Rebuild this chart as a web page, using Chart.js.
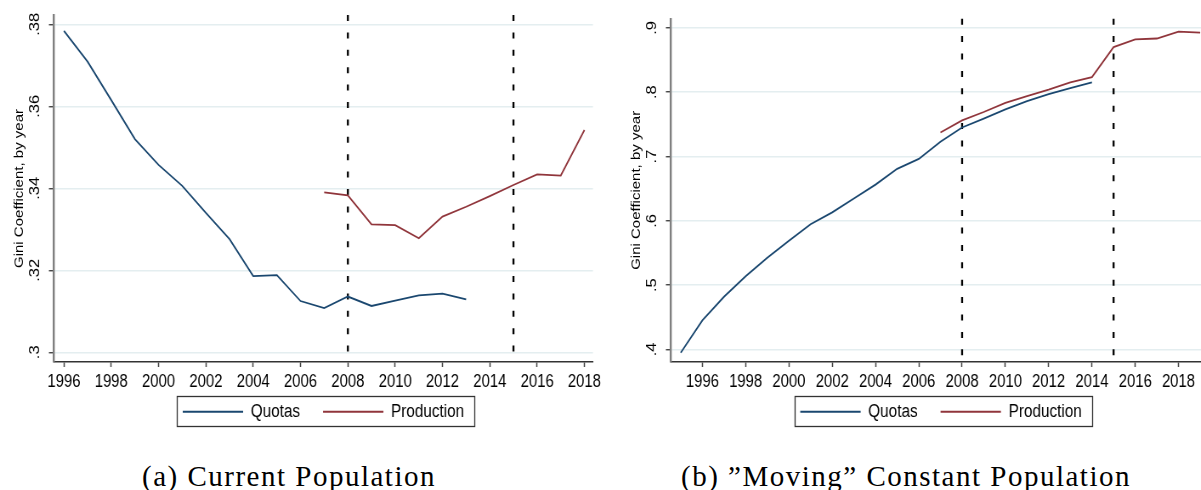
<!DOCTYPE html>
<html lang="en">
<head>
  <meta charset="UTF-8" />
  <title>Gini Coefficient by year</title>
  <script src="https://cdn.jsdelivr.net/npm/chart.js"></script>
  <style>
    html, body { margin: 0; padding: 0; background: #fff; }
    body { width: 1201px; height: 490px; position: relative; overflow: hidden; }
    /* the Stata panels come out a bit narrower than they are tall */
    .box { position: absolute; top: 0; height: 460px; transform: scaleX(0.85); transform-origin: 0 0; }
    .caption {
      position: absolute; top: 462px; height: 29px; line-height: 29px;
      font-family: "Liberation Serif", "Times New Roman", serif; font-size: 29px;
      letter-spacing: 1.5px; text-align: center; color: #000; white-space: nowrap;
    }
  </style>
</head>
<body>
  <div class="box" style="left:0; width:720px;"><canvas id="current"></canvas></div>
  <div class="box" style="left:600px; width:730px;"><canvas id="moving"></canvas></div>
  <div class="caption" style="left:0; width:578px;">(a) Current Population</div>
  <div class="caption" style="left:606px; width:600px;">(b) ”Moving” Constant Population</div>

  <script>
    // (a) current population
    const curQuotaYears = [1996, 1997, 1998, 1999, 2000, 2001, 2002, 2003, 2004, 2005, 2006, 2007, 2008, 2009, 2010, 2011, 2012, 2013];
    const curQuotas = [0.3784, 0.3709, 0.3615, 0.3520, 0.3457, 0.3406, 0.3340, 0.3276, 0.3186, 0.3188, 0.3125, 0.3108, 0.3136, 0.3113, 0.3126, 0.3139, 0.3143, 0.3129];
    const curProdYears = [2007, 2008, 2009, 2010, 2011, 2012, 2013, 2014, 2015, 2016, 2017, 2018];
    const curProduction = [0.3390, 0.3383, 0.3312, 0.3310, 0.3278, 0.3331, 0.3355, 0.3381, 0.3408, 0.3434, 0.3431, 0.3542];
    const curYTicks = [0.30, 0.32, 0.34, 0.36, 0.38];

    // (b) "moving" constant population
    const movQuotaYears = [1995, 1996, 1997, 1998, 1999, 2000, 2001, 2002, 2003, 2004, 2005, 2006, 2007, 2008, 2009, 2010, 2011, 2012, 2013, 2014];
    const movQuotas = [0.3948, 0.4451, 0.4820, 0.5138, 0.5425, 0.5692, 0.5948, 0.6132, 0.6348, 0.6563, 0.6809, 0.6963, 0.7231, 0.7451, 0.7589, 0.7732, 0.7862, 0.7969, 0.8062, 0.8154];
    const movProdYears = [2007, 2008, 2009, 2010, 2011, 2012, 2013, 2014, 2015, 2016, 2017, 2018, 2019];
    const movProduction = [0.7374, 0.7563, 0.7692, 0.7835, 0.7938, 0.8040, 0.8154, 0.8235, 0.8702, 0.8820, 0.8835, 0.8943, 0.8928];
    const movYTicks = [0.4, 0.5, 0.6, 0.7, 0.8, 0.9];

    const xTicks = [1996, 1998, 2000, 2002, 2004, 2006, 2008, 2010, 2012, 2014, 2016, 2018];
    const breakYears = [2008, 2015];
    const seriesNames = ['Quotas', 'Production'];

    const NAVY = '#1a476f';
    const MAROON = '#90353b';
    Chart.defaults.font.family = '"Liberation Sans", Arial, sans-serif';
    Chart.defaults.color = '#000';

    const pts = (xs, ys) => xs.map((x, i) => ({ x: x, y: ys[i] }));

    // black dashed verticals at the break years
    const breakLines = {
      id: 'breakLines',
      beforeDatasetsDraw(chart) {
        const { ctx, chartArea, scales } = chart;
        ctx.save();
        ctx.strokeStyle = '#000';
        ctx.lineWidth = 2.3;
        ctx.setLineDash([6, 11.4]);
        breakYears.forEach(yr => {
          const px = scales.x.getPixelForValue(yr);
          ctx.beginPath();
          ctx.moveTo(px, chartArea.top);
          ctx.lineTo(px, chartArea.bottom);
          ctx.stroke();
        });
        ctx.restore();
      }
    };

    // x tick labels need a tall axis box (they are clipped to it), so the
    // legend is pulled back up under the labels after layout
    const LEGEND_LIFT = 26.3;
    const legendLift = {
      id: 'legendLift',
      afterUpdate(chart) {
        const lg = chart.legend;
        lg.top -= LEGEND_LIFT;
        lg.bottom -= LEGEND_LIFT;
        (lg.legendHitBoxes || []).forEach(h => { h.top -= LEGEND_LIFT; });
      }
    };

    // frame round the legend
    const legendFrame = {
      id: 'legendFrame',
      afterDraw(chart) {
        const boxes = chart.legend.legendHitBoxes;
        if (!boxes || !boxes.length) return;
        const first = boxes[0], last = boxes[boxes.length - 1];
        const l = first.left - 7, r = last.left + last.width + 12;
        const t = first.top - 6.3, b = first.top + first.height + 5.3;
        const ctx = chart.ctx;
        ctx.save();
        ctx.strokeStyle = '#333';
        ctx.lineWidth = 1.3;
        ctx.strokeRect(Math.round(l) + 0.5, Math.round(t) + 0.5, Math.round(r - l), Math.round(b - t));
        ctx.restore();
      }
    };

    function makeChart(id, cfg) {
      return new Chart(document.getElementById(id), {
        type: 'line',
        data: {
          datasets: [
            { label: seriesNames[0], data: cfg.quotas, borderColor: NAVY, backgroundColor: NAVY, borderWidth: 1.8, pointRadius: 0, tension: 0 },
            { label: seriesNames[1], data: cfg.production, borderColor: MAROON, backgroundColor: MAROON, borderWidth: 1.8, pointRadius: 0, tension: 0 }
          ]
        },
        options: {
          responsive: true,
          maintainAspectRatio: false,
          animation: false,
          layout: { padding: { top: 15, left: cfg.padLeft, right: cfg.padRight, bottom: 3 } },
          plugins: {
            tooltip: { enabled: false },
            legend: {
              position: 'bottom',
              fullSize: false,
              labels: {
                boxWidth: 71,
                boxHeight: 2,
                padding: 27,
                font: { size: 18 },
                color: '#000',
                generateLabels(chart) {
                  return Chart.defaults.plugins.legend.labels.generateLabels(chart)
                    .map(item => Object.assign(item, { lineWidth: 0 }));
                }
              }
            }
          },
          scales: {
            x: {
              type: 'linear',
              min: cfg.xMin,
              max: cfg.xMax,
              afterBuildTicks: s => { s.ticks = xTicks.map(v => ({ value: v })); },
              afterFit: s => { s.height = 40; },
              ticks: {
                autoSkip: false, maxRotation: 0, minRotation: 0, padding: 4.5,
                font: { size: 17.5 }, color: '#000',
                callback: v => String(v)
              },
              grid: { drawOnChartArea: false, drawTicks: true, tickLength: 5, tickColor: '#444', tickWidth: 1.5 },
              border: { display: true, color: '#333', width: 1.5 }
            },
            y: {
              min: cfg.yMin,
              max: cfg.yMax,
              afterBuildTicks: s => { s.ticks = cfg.yTicks.map(v => ({ value: v })); },
              afterFit: s => { s.width = 63.5; },
              ticks: {
                minRotation: 90, maxRotation: 90, crossAlign: 'center', padding: cfg.tickPad,
                font: { size: 16.5 }, color: '#000',
                callback: v => String(+v.toFixed(2)).replace(/^0/, '')
              },
              grid: { color: '#e4eef0', lineWidth: 1.5, tickLength: 6, tickColor: '#333', tickWidth: 1.3 },
              border: { display: true, color: '#808080', width: 2.4 },
              title: {
                display: true,
                text: 'Gini Coefficient, by year',
                font: { size: 15 },
                color: '#000',
                padding: { top: 13.8, bottom: 0 }
              }
            }
          }
        },
        plugins: [legendLift, breakLines, legendFrame]
      });
    }

    makeChart('current', {
      quotas: pts(curQuotaYears, curQuotas),
      production: pts(curProdYears, curProduction),
      xMin: 1995.58, xMax: 2018.36,
      yMin: 0.29763, yMax: 0.38227,
      yTicks: curYTicks,
      padLeft: 0, padRight: 22.4, tickPad: 4.2
    });

    makeChart('moving', {
      quotas: pts(movQuotaYears, movQuotas),
      production: pts(movProdYears, movProduction),
      xMin: 1994.55, xMax: 2019.5,
      yMin: 0.3805, yMax: 0.9143,
      yTicks: movYTicks,
      padLeft: 20, padRight: 11.2, tickPad: 8.8
    });
  </script>
</body>
</html>
